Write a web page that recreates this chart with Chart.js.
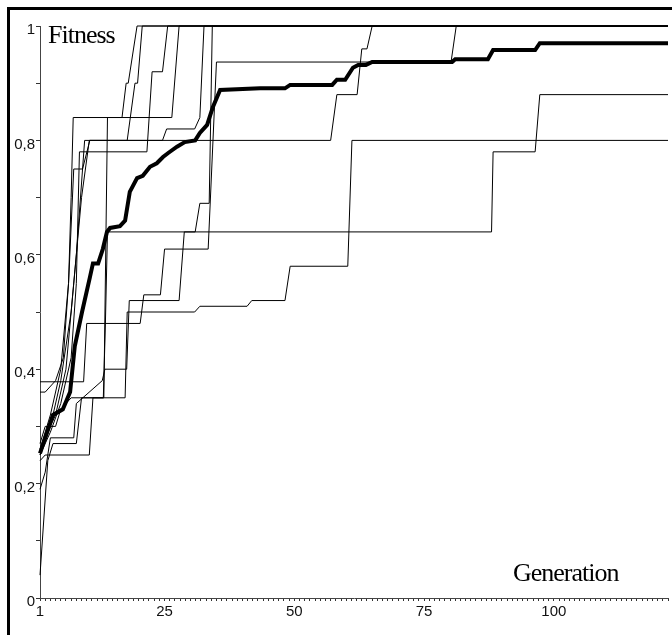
<!DOCTYPE html>
<html>
<head>
<meta charset="utf-8">
<script src="https://cdn.jsdelivr.net/npm/chart.js"></script>
<style>
  body { margin: 0; background: #fff; }
  canvas { display: block; }
</style>
</head>
<body>
<canvas id="myChart" width="672" height="635"></canvas>
<script>
// Datos: generación (x) y fitness (y) en los puntos de cambio
const run1Gen = [1, 2, 4, 5, 7, 13.3, 14, 16.8, 17.6, 18, 19.7, 122];
const run1Fit = [0.27, 0.30, 0.30, 0.33, 0.35, 0.35, 0.84, 0.84, 0.90, 0.90, 1, 1];

const run2Gen = [1, 3, 5, 7, 9, 10.5, 17.8, 19.3, 19.8, 20.7, 122];
const run2Fit = [0.25, 0.30, 0.38, 0.50, 0.70, 0.80, 0.80, 0.90, 0.90, 1, 1];

const run3Gen = [1, 3, 5, 7, 8, 8.6, 21.6, 22.6, 24.6, 25.6, 122];
const run3Fit = [0.25, 0.29, 0.34, 0.42, 0.55, 0.78, 0.78, 0.92, 0.92, 1, 1];

const run4Gen = [1, 3, 5, 6.5, 7, 7.4, 26.4, 27.8, 122];
const run4Fit = [0.26, 0.32, 0.40, 0.55, 0.70, 0.84, 0.84, 1, 1];

const run5Gen = [1, 2, 4, 5.5, 6.5, 7.5, 9.2, 10.6, 24.6, 25.4, 30.8, 31.8, 32.6, 122];
const run5Fit = [0.36, 0.36, 0.38, 0.42, 0.55, 0.75, 0.75, 0.80, 0.80, 0.82, 0.82, 0.84, 1, 1];

const run6Gen = [1, 2, 3, 7.5, 8, 13, 13.5, 17.7, 18.2, 27.8, 28.8, 30.9, 31.8, 33.6, 34.2, 122];
const run6Fit = [0.19, 0.22, 0.28, 0.28, 0.34, 0.38, 0.40, 0.40, 0.52, 0.52, 0.64, 0.64, 0.69, 0.69, 1, 1];

const run7Gen = [1, 2, 4, 6, 8, 9.6, 57, 58.2, 62.1, 63, 64, 65, 122];
const run7Fit = [0.26, 0.28, 0.32, 0.40, 0.60, 0.80, 0.80, 0.88, 0.88, 0.96, 0.96, 1, 1];

const run8Gen = [1, 9.4, 10, 20.3, 21, 24.2, 25, 33.4, 35, 80.2, 81.2, 122];
const run8Fit = [0.378, 0.378, 0.48, 0.48, 0.53, 0.53, 0.61, 0.61, 0.937, 0.937, 1, 1];

const run9Gen = [1, 2.5, 3.5, 8, 9, 13.2, 13.6, 14, 88, 88.3, 96.4, 97.3, 122];
const run9Fit = [0.04, 0.24, 0.27, 0.27, 0.35, 0.35, 0.48, 0.64, 0.64, 0.78, 0.78, 0.88, 0.88];

const run10Gen = [1, 2, 10.5, 11.2, 17.4, 17.8, 30.8, 31.8, 40.9, 41.8, 48.2, 49.2, 60.3, 61.1, 122];
const run10Fit = [0.24, 0.25, 0.25, 0.35, 0.35, 0.50, 0.50, 0.51, 0.51, 0.52, 0.52, 0.58, 0.58, 0.80, 0.80];

// Línea gruesa (media)
const meanGen = [1, 3.5, 5.4, 6.8, 7.7, 9.1, 10.6, 11.2, 12.2, 13.1, 13.9, 14.5, 16.4, 17.4, 18.3, 19.7, 20.8, 22.2, 23.5, 24.7,
  25.7, 27.4, 28.9, 30.9, 31.8, 33.2, 34.3, 35.7, 43.4, 48.2, 49.2, 57.3, 58.2, 59.8, 61.3, 62.3, 63.8, 65, 80.4, 81,
  87.3, 88.3, 96.4, 97.3, 122];
const meanFit = [0.253, 0.32, 0.33, 0.36, 0.44, 0.50, 0.56, 0.585, 0.585, 0.61, 0.64, 0.647, 0.65, 0.66, 0.71, 0.734, 0.738, 0.754, 0.76, 0.771,
  0.778, 0.789, 0.797, 0.80, 0.813, 0.827, 0.858, 0.888, 0.891, 0.891, 0.897, 0.897, 0.906, 0.906, 0.927, 0.932, 0.932, 0.937, 0.937, 0.942,
  0.942, 0.958, 0.958, 0.970, 0.970];

// Etiquetas de los ejes
const xLabels = [1, 25, 50, 75, 100];
const yLabels = [0, 0.2, 0.4, 0.6, 0.8, 1];

const runs = [
  [run1Gen, run1Fit], [run2Gen, run2Fit], [run3Gen, run3Fit], [run4Gen, run4Fit], [run5Gen, run5Fit],
  [run6Gen, run6Fit], [run7Gen, run7Fit], [run8Gen, run8Fit], [run9Gen, run9Fit], [run10Gen, run10Fit]
];

function toPoints(gens, fits) {
  return gens.map((g, i) => ({ x: g, y: fits[i] }));
}

const datasets = runs.map(([g, f]) => ({
  data: toPoints(g, f),
  borderColor: '#000',
  borderWidth: 1,
  pointRadius: 0,
  tension: 0,
  clip: false,
  order: 1
}));

datasets.push({
  data: toPoints(meanGen, meanFit),
  borderColor: '#000',
  borderWidth: 4,
  pointRadius: 0,
  tension: 0,
  clip: false,
  order: 0
});

// Marco y textos de los ejes
const decoPlugin = {
  id: 'deco',
  afterDraw(chart) {
    const ctx = chart.ctx;
    ctx.save();
    ctx.strokeStyle = '#000';
    ctx.lineWidth = 3;
    ctx.beginPath();
    ctx.moveTo(8.5, 635);
    ctx.lineTo(8.5, 8.5);
    ctx.lineTo(672, 8.5);
    ctx.stroke();

    ctx.fillStyle = '#000';
    ctx.font = '26px "Liberation Serif"';
    ctx.letterSpacing = '-1px';
    ctx.textBaseline = 'alphabetic';
    ctx.fillText('Fitness', 48, 43);
    ctx.fillText('Generation', 513, 581);
    ctx.restore();
  }
};

const tickFont = { family: 'Liberation Sans', size: 15 };

new Chart(document.getElementById('myChart').getContext('2d'), {
  type: 'line',
  data: { datasets },
  options: {
    responsive: false,
    animation: false,
    events: [],
    layout: { padding: { left: 0, top: 26, right: 4, bottom: 0 } },
    plugins: { legend: { display: false }, tooltip: { enabled: false } },
    scales: {
      x: {
        type: 'linear',
        min: 1,
        max: 122,
        afterFit(scale) { scale.height = 37; },
        border: { display: true, color: '#444', width: 1 },
        grid: { drawOnChartArea: false, drawTicks: true, tickLength: 3, color: '#333' },
        ticks: {
          stepSize: 1,
          autoSkip: false,
          maxRotation: 0,
          padding: 2,
          color: '#111',
          font: tickFont,
          callback: v => (xLabels.includes(v) ? String(v) : '')
        }
      },
      y: {
        min: 0,
        max: 1,
        afterFit(scale) { scale.width = 40; },
        border: { display: true, color: '#444', width: 1 },
        grid: { drawOnChartArea: false, drawTicks: true, tickLength: 4, color: '#333' },
        ticks: {
          stepSize: 0.1,
          autoSkip: false,
          padding: 1,
          labelOffset: 4,
          color: '#111',
          font: tickFont,
          callback: v => {
            const r = Math.round(v * 10) / 10;
            return yLabels.includes(r) ? String(r).replace('.', ',') : '';
          }
        }
      }
    }
  },
  plugins: [decoPlugin]
});
</script>
</body>
</html>
